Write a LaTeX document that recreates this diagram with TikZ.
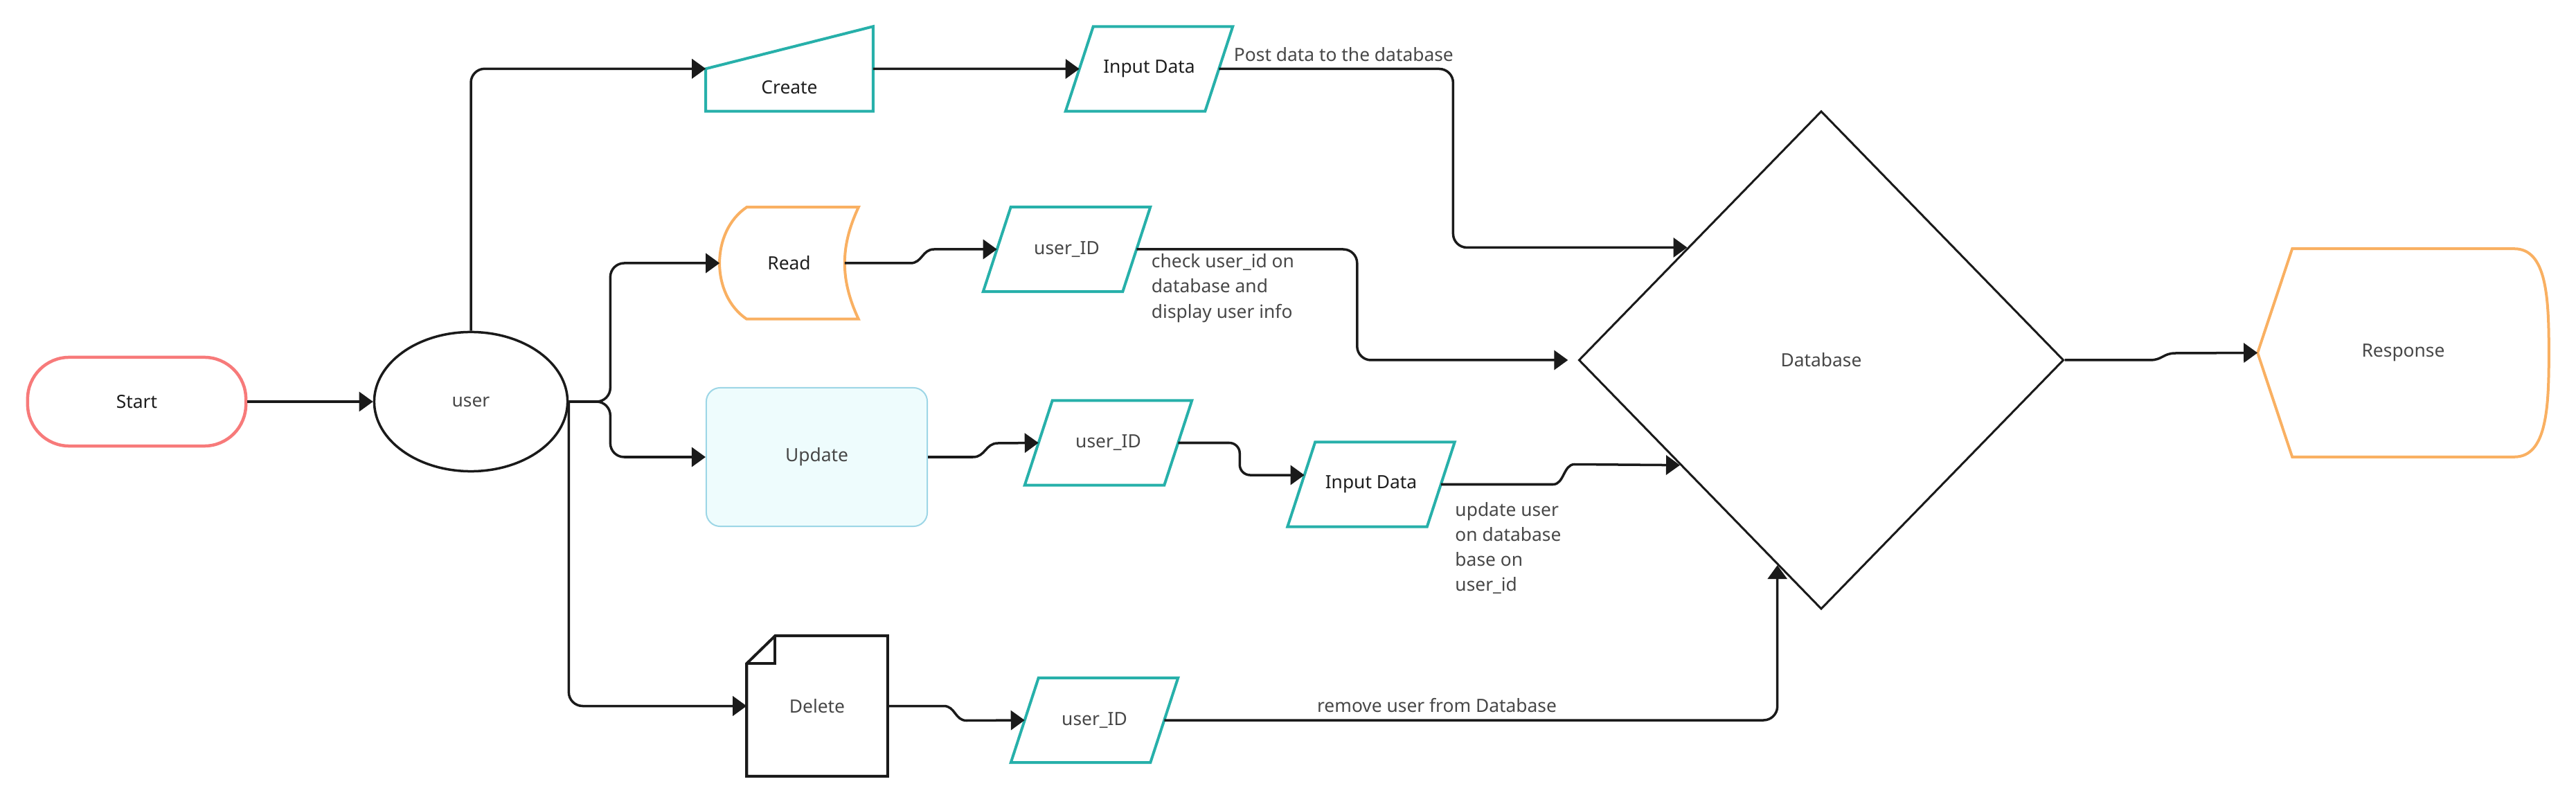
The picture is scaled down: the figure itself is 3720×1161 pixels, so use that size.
\documentclass[tikz,border=0pt]{standalone}
\usepackage{fontspec}
\setmainfont{Noto Sans}
\usepackage{tikz}
\usetikzlibrary{calc,shapes.geometric,arrows.meta}
\definecolor{startred}{HTML}{F77A7A}
\definecolor{readorange}{HTML}{F9B062}
\definecolor{ioteal}{HTML}{27B0AA}
\definecolor{updfill}{HTML}{EEFCFD}
\definecolor{updline}{HTML}{9DD6E6}
\definecolor{linegray}{HTML}{1A1A1A}
\definecolor{txtdark}{HTML}{1E1E1E}
\definecolor{txtgray}{HTML}{474747}

\begin{document}
\begin{tikzpicture}[x=0.01cm,y=-0.01cm,
    font=\fontsize{7.5pt}{10.3pt}\selectfont,
    conn/.style={draw=linegray,line width=0.035cm,rounded corners=0.2cm,-{Triangle[length=0.2cm,width=0.28cm]}},
    box/.style={inner sep=0pt,text=txtgray},
    io/.style={box,minimum width=2cm,minimum height=1.21cm},
    lbl/.style={inner sep=0pt,text=txtgray,align=left}]
    % page
    \useasboundingbox (0,0) rectangle (3720,1161);
    % start and user
    \node[box,text=txtdark,draw=startred,line width=0.045cm,rounded corners=0.6cm,minimum width=3.15cm,minimum height=1.28cm] (start) at (197.5,580) {Start};
    \node[box,ellipse,draw=linegray,line width=0.035cm,minimum width=2.79cm,minimum height=2.01cm] (user) at (680,580) {user};
    % create (manual input)
    \node[box,text=txtdark,minimum width=2.4cm,minimum height=0.68cm] (create) at (1140,126) {Create};
    \coordinate (createin) at ($(create.north west)+(0,8)$);
    \coordinate (createout) at ($(create.north east)+(0,8)$);
    \draw[ioteal,line width=0.04cm] (createin) -- ($(createout)+(0,-61)$) -- (create.south east) -- (create.south west) -- cycle;
    % read (stored data)
    \node[box,text=txtdark,minimum width=1.99cm,minimum height=1.6cm] (read) at (1139.5,380) {Read};
    \draw[readorange,line width=0.04cm] ($(read.north west)+(39,0)$) -- (read.north east) to[bend right=25] (read.south east)
        -- ($(read.south west)+(39,0)$) to[bend left=56] ($(read.north west)+(39,0)$) -- cycle;
    % update
    \node[box,draw=updline,fill=updfill,line width=0.02cm,rounded corners=0.2cm,minimum width=3.19cm,minimum height=2cm] (upd) at (1179.5,660) {Update};
    % delete (document)
    \node[box,minimum width=2.02cm,minimum height=2.01cm] (del) at (1180,1019.5) {Delete};
    \draw[linegray,line width=0.04cm] ($(del.north west)+(41,0)$) -- (del.north east) -- (del.south east) -- (del.south west) -- ($(del.north west)+(0,40)$) -- cycle;
    \draw[linegray,line width=0.04cm] ($(del.north west)+(41,0)$) |- ($(del.north west)+(0,40)$);
    % inputs (parallelograms)
    \node[io,text=txtdark] (in1) at (1659.5,99.5) {Input Data};
    \node[io] (uid1) at (1540.5,360) {user\_ID};
    \node[io] (uid2) at (1600.5,639.5) {user\_ID};
    \node[io,text=txtdark] (in2) at (1980,699.5) {Input Data};
    \node[io] (uid3) at (1580.5,1040) {user\_ID};
    \foreach \n in {in1,uid1,uid2,in2,uid3} {
        \draw[ioteal,line width=0.04cm] ($(\n.north west)+(20,0)$) -- ($(\n.north east)+(20,0)$)
            -- ($(\n.south east)+(-20,0)$) -- ($(\n.south west)+(-20,0)$) -- cycle;
    }
    % database and response
    \node[box,diamond,draw=linegray,line width=0.03cm,minimum width=7cm,minimum height=7.19cm] (db) at (2630,520) {Database};
    \node[box,minimum width=4.19cm,minimum height=2.99cm] (resp) at (3470.5,509.5) {Response};
    \draw[readorange,line width=0.04cm] (resp.west) -- ($(resp.north west)+(50,0)$) -- ($(resp.north east)+(-50,0)$)
        .. controls ($(resp.north east)+(-3,0)$) and ($(resp.east)+(0,-79)$) .. (resp.east)
        .. controls ($(resp.east)+(0,79)$) and ($(resp.south east)+(-3,0)$) .. ($(resp.south east)+(-50,0)$)
        -- ($(resp.south west)+(50,0)$) -- cycle;
    % entry points on the database
    \coordinate (dbA) at ($(db.west)!0.45!(db.north)$);
    \coordinate (dbC) at ($(db.west)!0.42!(db.south)$);
    \coordinate (dbD) at ($(db.west)!0.82!(db.south)$);
    \coordinate (in2in) at ($($(in2.north west)+(20,0)$)!0.39!($(in2.south west)+(-20,0)$)$);
    % connectors from user
    \draw[conn] (start.east) -- (user.west);
    \draw[conn] (user.north) |- (createin);
    \draw[conn] (user.east) -- ++(60,0) |- (read.west);
    \draw[conn] (user.east) -- ++(60,0) |- (upd.west);
    \draw[conn] (user.east) |- (del.west);
    % create branch
    \draw[conn] (createout) -- (in1.west);
    \draw[conn] (in1.east) -| ($(in1.east)!0.5!(dbA)$) |- (dbA);
    \node[lbl,anchor=west] (postlbl) at ($(in1.east)+(21,-21)$) {Post data to the database};
    % read branch
    \draw[conn,sharp corners] ($(read.east)+(-20,0)$) -- ++(95,0) .. controls +(17,0) and +(-17,0) .. ++(34,-20) -- (uid1.west);
    \draw[conn,shorten >=0.14cm] (uid1.east) -| ($(uid1.east)!0.5!(db.west)$) |- (db.west);
    \node[lbl,anchor=north west] (readlbl) at ($(uid1.east)+(21,6)$) {check user\_id on\\database and\\display user info};
    % update branch
    \draw[conn,sharp corners] (upd.east) -- ++(65,0) .. controls +(18,0) and +(-18,0) .. ++(36,-20) -- (uid2.west);
    \draw[conn,rounded corners=0.15cm] (uid2.east) -- ++(89,0) |- (in2in);
    \draw[conn,sharp corners] (in2.east) -- ++(162,0) .. controls +(16,0) and +(-16,0) .. ++(31,-29) -- (dbC);
    \node[lbl,anchor=north west] (updlbl) at ($(in2.east)+(20,25)$) {update user\\on database\\base on\\user\_id};
    % delete branch
    \draw[conn,sharp corners] (del.east) -- ++(81,0) .. controls +(17,0) and +(-17,0) .. ++(33,21) -- (uid3.west);
    \draw[conn] (uid3.east) -| (dbD);
    \node[lbl] (dellbl) at (2075,1019) {remove user from Database};
    % response
    \draw[conn,sharp corners] (db.east) -- ++(123,0) .. controls +(18,0) and +(-18,0) .. ++(37,-10) -- (resp.west);
\end{tikzpicture}
\end{document}
